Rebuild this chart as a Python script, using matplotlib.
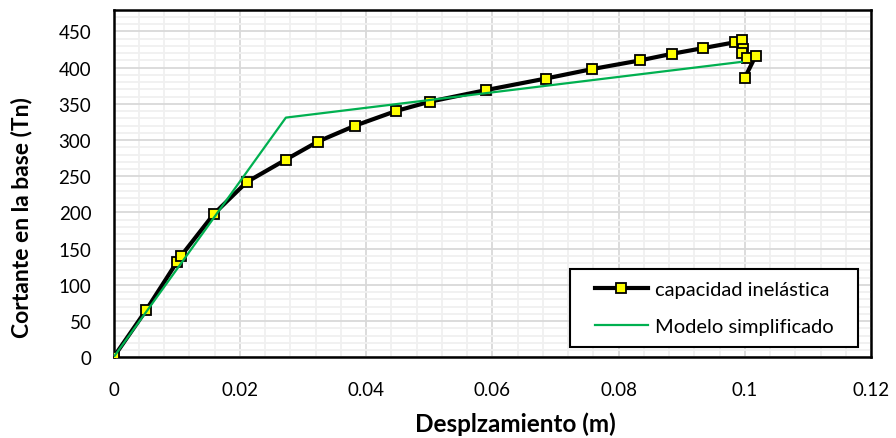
import matplotlib.pyplot as plt
from matplotlib.patches import Rectangle
from matplotlib.ticker import MultipleLocator, FuncFormatter

# curva de capacidad (pushover)
desp = [0.0, 0.00515, 0.0100, 0.0107, 0.0159, 0.0211, 0.0273, 0.0324, 0.0383,
        0.0447, 0.0501, 0.0590, 0.0685, 0.0758, 0.0834, 0.0884, 0.0934,
        0.0984, 0.0996, 0.0997, 0.0995, 0.1003, 0.1017, 0.1000]
cortante = [0, 65, 131, 140, 198, 242, 273, 298, 320,
            340, 353, 369, 385, 398, 410, 419, 427,
            435, 438, 426, 420, 414, 416, 386]

# modelo bilineal
desp_bil = [0.0, 0.0273, 0.0995]
cortante_bil = [0, 331, 408]

plt.rcParams['font.family'] = ['Lato', 'DejaVu Sans']

fig = plt.figure(figsize=(8.96, 4.39), dpi=100)
ax = fig.add_axes([0.1267, 0.1838, 0.8455, 0.7918])

ax.plot(desp, cortante, color='black', lw=3, marker='s', ms=7,
        mfc='#ffff00', mec='black', mew=1.3, label='capacidad inelástica', zorder=3)
ax.plot(desp_bil, cortante_bil, color='#00b050', lw=1.6,
        label='Modelo simplificado', zorder=4)

ax.set_xlim(0, 0.12)
ax.set_ylim(0, 480)
ax.xaxis.set_major_locator(MultipleLocator(0.02))
ax.xaxis.set_minor_locator(MultipleLocator(0.004))
ax.set_yticks(range(0, 451, 50))
ax.yaxis.set_minor_locator(MultipleLocator(10))
ax.xaxis.set_major_formatter(FuncFormatter(lambda v, p: f'{v:g}'))

ax.grid(which='minor', color='#f0f0f0', lw=1.3)
ax.grid(which='major', color='#d9d9d9', lw=1.3)
ax.set_axisbelow(True)
ax.tick_params(which='both', length=0, labelsize=13.5)
ax.tick_params(axis='y', pad=16)
ax.tick_params(axis='x', pad=17)
for s in ax.spines.values():
    s.set_linewidth(1.8)
    s.set_color('black')

ax.set_xlabel('Desplzamiento (m)', fontsize=17.5, fontweight='bold')
ax.set_ylabel('Cortante en la base (Tn)', fontsize=16.5, fontweight='bold')
ax.xaxis.set_label_coords(0.531, -0.155)
ax.yaxis.set_label_coords(-0.107, 0.406)

# caja de la leyenda
ax.add_patch(Rectangle((0.6026, 0.0296), 0.3804, 0.2244, transform=ax.transAxes,
                       facecolor='white', edgecolor='black', lw=1.5, zorder=5))
leg = ax.legend(loc='center', bbox_to_anchor=(0.7927, 0.1418), fontsize=14.5,
                frameon=False, handlelength=2.65, handletextpad=0.35,
                labelspacing=0.95, borderaxespad=0, borderpad=0)
leg.set_zorder(6)

fig.savefig('out.png', dpi=100)
